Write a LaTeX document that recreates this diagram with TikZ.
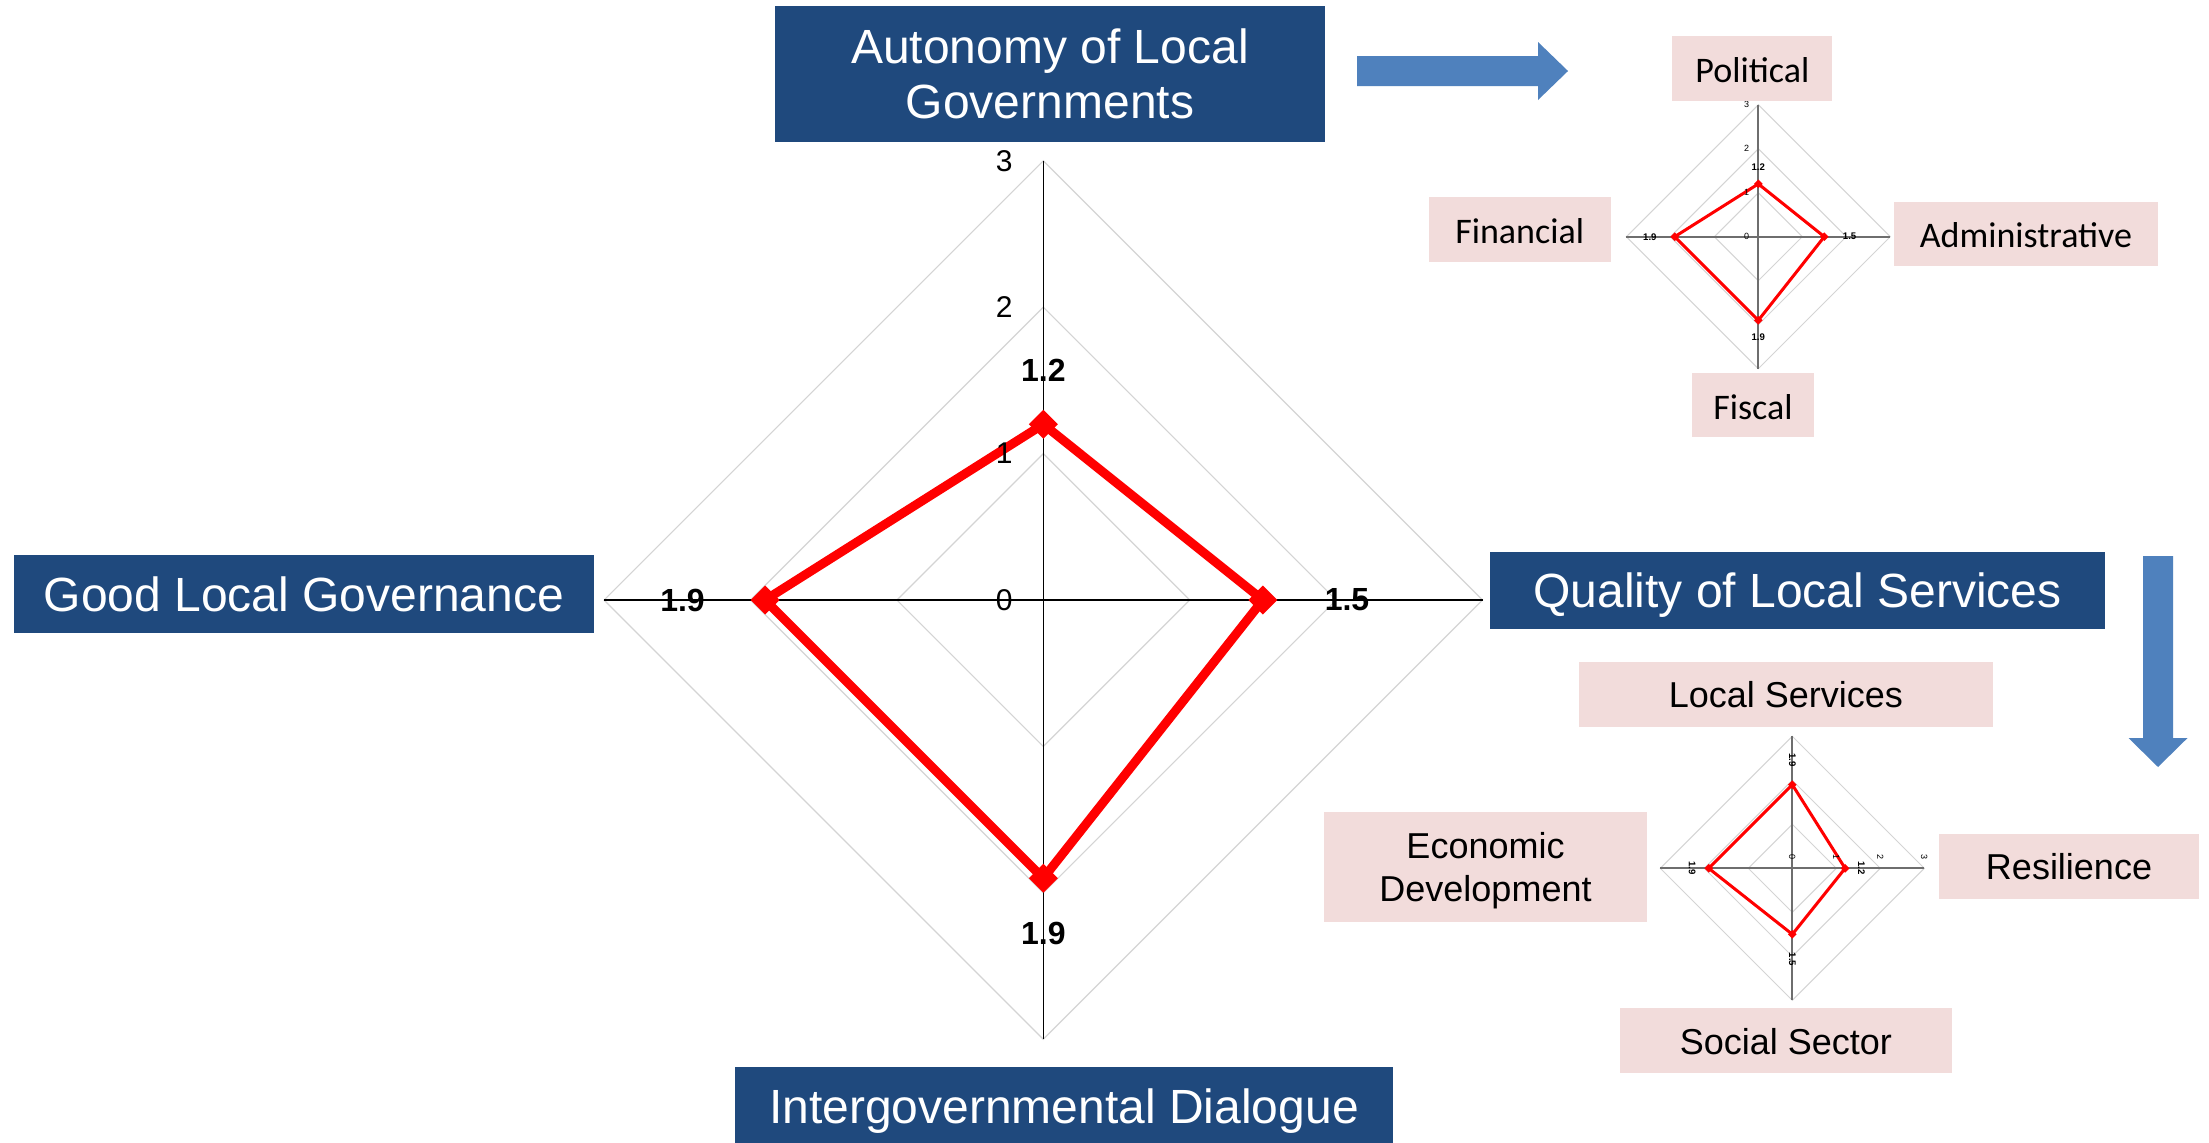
\documentclass[tikz,border=0pt]{standalone}
\usepackage{fontspec}
\setmainfont{Liberation Sans}
\newfontfamily\calib{Carlito}
\definecolor{boxblue}{HTML}{1F497D}
\definecolor{arrowblue}{HTML}{4F81BD}
\definecolor{pinkbox}{HTML}{F2DCDB}
\definecolor{gridgray}{HTML}{D4D4D4}
\definecolor{axisgray}{HTML}{6E6E6E}
\tikzset{
  bluebox/.style={fill=boxblue, text=white, inner sep=0pt, font=\fontsize{24}{27.5}\selectfont, text height=17.2pt, text depth=0pt},
  whitetxt/.style={text=white, inner sep=0pt, font=\fontsize{24}{27.5}\selectfont},
  pinkcal/.style={fill=pinkbox, inner sep=0pt, font=\calib\fontsize{18}{21.6}\selectfont, text height=14.2pt, text depth=0pt},
  pinkarial/.style={fill=pinkbox, inner sep=0pt, font=\fontsize{18}{21.7}\selectfont, text height=13.6pt, text depth=0pt},
  blacktxt/.style={inner sep=0pt, font=\fontsize{18}{21.7}\selectfont},
  ticklbl/.style={font=\fontsize{15}{18}\selectfont, inner sep=0pt, anchor=east, transform shape},
  vallbl/.style={font=\bfseries\fontsize{16}{19}\selectfont, inner sep=0pt, transform shape},
  blockarrow/.style={fill=arrowblue},
}
\newcommand\radarchart[1]{%
  \foreach \r in {146.4,292.8,439.2}{\draw[radargrid] (0,-\r) -- (\r,0) -- (0,\r) -- (-\r,0) -- cycle;}
  \draw[radaraxis] (0,-439.2) -- (0,439.2);
  \draw[radaraxis] (-439.2,0) -- (439.2,0);
  \draw[radarline] (0,-175.7) -- (219.6,0) -- (0,278.2) -- (-278.2,0) -- cycle;
  \foreach \p in {(0,-175.7),(219.6,0),(0,278.2),(-278.2,0)}{\fill[red] \p +(0,-14.5) -- +(14.5,0) -- +(0,14.5) -- +(-14.5,0) -- cycle;}
  \node[ticklbl] (#1-t3) at (-30.3,-439.2) {3};
  \node[ticklbl] (#1-t2) at (-30.3,-292.8) {2};
  \node[ticklbl] (#1-t1) at (-30.3,-146.4) {1};
  \node[ticklbl] (#1-t0) at (-30.3,0) {0};
  \node[vallbl] (#1-vtop) at (0,-230) {1.2};
  \node[vallbl] (#1-vleft) at (-360.8,0) {1.9};
  \node[vallbl] (#1-vbot) at (0,333) {1.9};
  \node[vallbl] (#1-vright) at (303.7,0) {1.5};
}
\begin{document}
\begin{tikzpicture}[x=0.5pt,y=-0.5pt]
\useasboundingbox (0,0) rectangle (2209,1142);
\fill[white] (0,0) rectangle (2209,1142);

% main radar
\begin{scope}[shift={(1043.3,600)},
  radargrid/.style={gridgray, line width=0.6pt},
  radaraxis/.style={black, line width=0.65pt},
  radarline/.style={red, line width=4.5pt, line join=miter}]
  \radarchart{m}
\end{scope}

% small radar 1
\begin{scope}[shift={(1758.3,236.7)}, scale=0.3005, transform shape,
  radargrid/.style={gridgray, line width=0.5pt},
  radaraxis/.style={axisgray, line width=1pt},
  radarline/.style={red, line width=1.5pt, line join=miter}]
  \radarchart{a}
\end{scope}

% small radar 2 (rotated)
\begin{scope}[shift={(1792.3,868.3)}, rotate=-90, scale=0.3005, transform shape,
  radargrid/.style={gridgray, line width=0.5pt},
  radaraxis/.style={axisgray, line width=1pt},
  radarline/.style={red, line width=1.5pt, line join=miter}]
  \radarchart{q}
\end{scope}

% blue title boxes
\node[bluebox, minimum width=275pt, minimum height=68pt] (autobox) at (1050,74) {};
\node[whitetxt, anchor=base] (autol1) at (1050,63) {Autonomy of Local};
\node[whitetxt, anchor=base] (autol2) at (1050,118) {Governments};
\node[bluebox, minimum width=290pt, minimum height=39pt] (good) at (304,594) {Good Local Governance};
\node[bluebox, minimum width=307.5pt, minimum height=38.5pt] (quality) at (1797.5,590.5) {Quality of Local Services};
\node[bluebox, minimum width=329pt, minimum height=39pt] (inter) at (1064,1106) {Intergovernmental Dialogue};

% block arrows
\fill[blockarrow] (1357,56) -- (1538,56) -- (1538,42) -- (1568,71) -- (1538,100) -- (1538,86) -- (1357,86) -- cycle;
\fill[blockarrow] (2143,556) -- (2173,556) -- (2173,738) -- (2187.5,738) -- (2158,767) -- (2128.5,738) -- (2143,738) -- cycle;

% pink boxes, autonomy
\node[pinkcal, minimum width=80pt, minimum height=32.4pt] (political) at (1752.4,68.4) {Political};
\node[pinkcal, minimum width=90.8pt, minimum height=32.2pt] (financial) at (1519.7,229.5) {Financial};
\node[pinkcal, minimum width=131.6pt, minimum height=32pt] (admin) at (2025.9,233.7) {Administrative};
\node[pinkcal, minimum width=60.9pt, minimum height=32pt] (fiscal) at (1752.9,405.3) {Fiscal};

% pink boxes, services
\node[pinkarial, minimum width=207.3pt, minimum height=32.4pt] (localserv) at (1785.8,694.3) {Local Services};
\node[pinkarial, minimum width=161.9pt, minimum height=54.7pt] (econ) at (1485.5,867) {};
\node[blacktxt, anchor=base] (econl1) at (1485.5,858.3) {Economic};
\node[blacktxt, anchor=base] (econl2) at (1485.5,901.7) {Development};
\node[pinkarial, minimum width=129.7pt, minimum height=32.4pt] (resil) at (2069,866.3) {Resilience};
\node[pinkarial, minimum width=166.2pt, minimum height=32.2pt] (social) at (1785.8,1040.5) {Social Sector};
\end{tikzpicture}
\end{document}
